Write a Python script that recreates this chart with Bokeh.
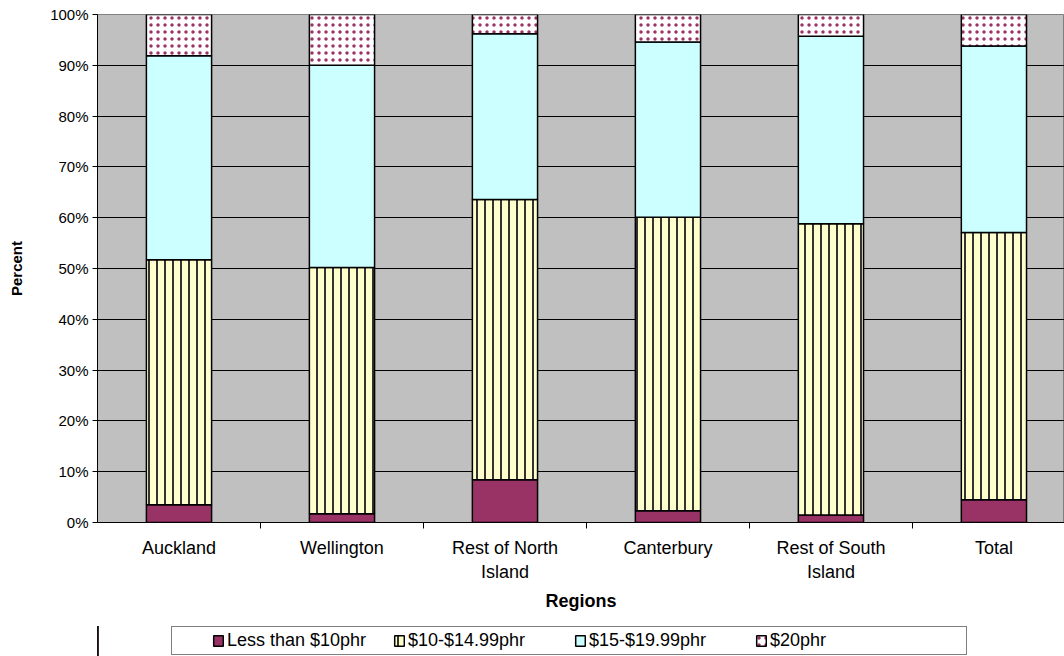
from bokeh.plotting import figure
from bokeh.layouts import column
from bokeh.models import (Range1d, FixedTicker, LinearAxis, PrintfTickFormatter,
                          Legend, LegendItem, ColumnDataSource, Title)
from bokeh.embed import file_html
from bokeh.resources import INLINE

# ---- data (percent of each region) ----
regions = ["Auckland", "Wellington", "Rest of North\nIsland", "Canterbury",
           "Rest of South\nIsland", "Total"]
less_than_10 = [3.5, 1.7, 8.4, 2.3, 1.5, 4.5]
from_10_to_1499 = [48.2, 48.5, 55.2, 57.8, 57.3, 52.6]
from_15_to_1999 = [40.2, 39.8, 32.6, 34.5, 36.9, 36.7]
from_20 = [8.1, 10.0, 3.8, 5.4, 4.3, 6.2]
series_names = ["Less than $10phr", "$10-$14.99phr", "$15-$19.99phr", "$20phr"]
y_ticks = [0, 10, 20, 30, 40, 50, 60, 70, 80, 90, 100]

FONT = "Liberation Sans"

x_centers = [i + 0.5 for i in range(len(regions))]
boundaries = [i for i in range(1, len(regions))]

series = [less_than_10, from_10_to_1499, from_15_to_1999, from_20]
data = {"x": x_centers}
running = [0.0] * len(regions)
for k, s in enumerate(series):
    data[f"b{k}"] = list(running)
    running = [r + v for r, v in zip(running, s)]
    data[f"t{k}"] = list(running)
source = ColumnDataSource(data)

p = figure(width=1064, height=626,
           x_range=Range1d(0, 5.933), y_range=Range1d(0, 100),
           output_backend="svg", toolbar_location=None,
           x_axis_location=None,
           min_border_left=97, min_border_top=14, min_border_right=0,
           min_border_bottom=104,
           background_fill_color="#C0C0C0", border_fill_color="white",
           outline_line_color="#808080", outline_line_width=1)

# y axis
ya = p.yaxis[0]
ya.ticker = FixedTicker(ticks=y_ticks)
ya.formatter = PrintfTickFormatter(format="%d%%")
ya.major_tick_out = 5
ya.major_tick_in = 0
ya.minor_tick_line_color = None
ya.major_label_standoff = 4
ya.major_label_text_font = FONT
ya.major_label_text_font_size = "15px"
ya.major_label_text_color = "black"
ya.axis_line_color = "black"
ya.major_tick_line_color = "black"
ya.axis_label = "Percent"
ya.axis_label_text_font = FONT
ya.axis_label_text_font_size = "15px"
ya.axis_label_text_font_style = "bold"
ya.axis_label_text_color = "black"
ya.axis_label_standoff = 22

p.xgrid.visible = False
p.ygrid.ticker = FixedTicker(ticks=y_ticks)
p.ygrid.grid_line_color = "black"
p.ygrid.grid_line_width = 1

# x axis: boundary ticks
xa_ticks = LinearAxis(ticker=FixedTicker(ticks=boundaries),
                      major_tick_out=6, major_tick_in=0,
                      major_label_text_font_size="0px",
                      major_label_standoff=0,
                      axis_line_color="black", major_tick_line_color="black",
                      minor_tick_line_color=None)
p.add_layout(xa_ticks, "below")

# x axis: category labels
overrides = {xc: name for xc, name in zip(x_centers, regions)}
xa_labels = LinearAxis(ticker=FixedTicker(ticks=x_centers),
                       major_label_overrides=overrides,
                       major_tick_out=0, major_tick_in=0,
                       major_tick_line_color=None, axis_line_color=None,
                       minor_tick_line_color=None,
                       major_label_standoff=9,
                       major_label_text_font=FONT,
                       major_label_text_font_size="18px",
                       major_label_text_color="black")
p.add_layout(xa_labels, "below")

title = Title(text="Regions", align="center", text_font=FONT,
              text_font_size="18px", text_font_style="bold",
              text_color="black", standoff=8)
p.add_layout(title, "below")

styles = [
    dict(fill_color="#993366"),
    dict(fill_color="#FFFFCC", hatch_pattern="vertical_line",
         hatch_color="#333333", hatch_scale=8, hatch_weight=2),
    dict(fill_color="#CCFFFF"),
    dict(fill_color="white", hatch_pattern="dot",
         hatch_color="#993366", hatch_scale=7, hatch_weight=1.2),
]

for k in range(4):
    p.vbar(x="x", width=0.4, bottom=f"b{k}", top=f"t{k}", source=source,
           line_color="black", line_width=1.5, **styles[k])

# ---- legend strip (separate small figure below the chart) ----
lg = figure(width=1064, height=30,
            x_range=Range1d(100, 200), y_range=Range1d(0, 1),
            output_backend="svg", toolbar_location=None,
            x_axis_location=None, y_axis_location=None,
            min_border_left=97, min_border_right=0, min_border_top=0,
            min_border_bottom=0, outline_line_color=None,
            background_fill_color="white", border_fill_color="white")
lg.xgrid.visible = False
lg.ygrid.visible = False
leg_renderers = []
for k in range(4):
    r = lg.vbar(x="x", width=0.4, bottom=f"b{k}", top=f"t{k}", source=source,
                line_color="black", line_width=1.5, **styles[k])
    leg_renderers.append(r)

legend = Legend(items=[LegendItem(label=n, renderers=[r])
                       for n, r in zip(series_names, leg_renderers)],
                orientation="horizontal", location=(74, 1),
                border_line_color="black", border_line_width=1,
                background_fill_color="white",
                label_text_font=FONT, label_text_font_size="18px",
                label_text_color="black",
                glyph_width=12, glyph_height=13, label_standoff=3,
                label_width=156, label_height=18, spacing=10,
                margin=0)
try:
    legend.padding = (40, 3)
except Exception:
    legend.padding = 3
lg.add_layout(legend, "center")

layout = column(p, lg, spacing=0)
open("out.html", "w").write(file_html(layout, INLINE))
